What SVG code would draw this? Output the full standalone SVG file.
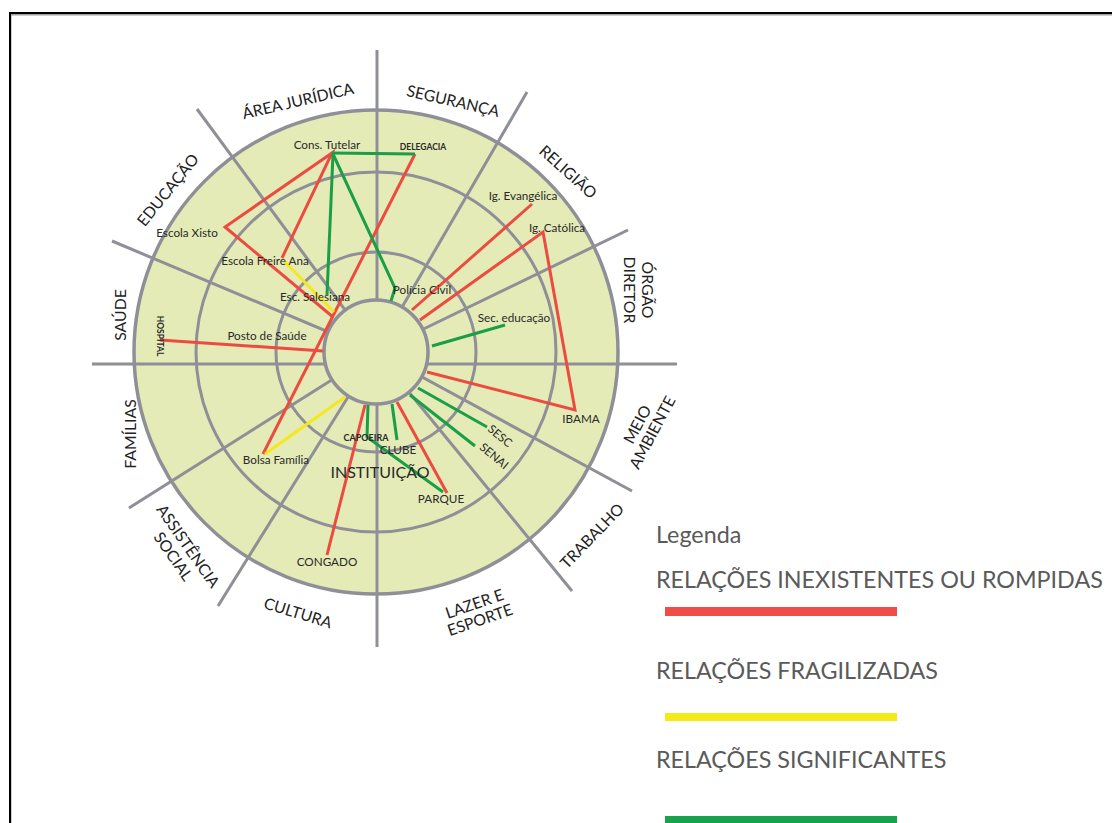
<svg xmlns="http://www.w3.org/2000/svg" width="1112" height="823" viewBox="0 0 1112 823">
<defs>
<style>
.ring{fill:none;stroke:#8f8f97;stroke-width:3}
.spoke{stroke:#8f8f97;stroke-width:3;fill:none}
.r{stroke:#ec4b41;stroke-width:3;fill:none;stroke-linejoin:miter}
.y{stroke:#f5e81c;stroke-width:3;fill:none}
.g{stroke:#1a9e48;stroke-width:3;fill:none}
.sec{font-family:Lato,'Liberation Sans',sans-serif;font-size:15.8px;fill:#222;text-anchor:middle}
.lab{font-family:Lato,'Liberation Sans',sans-serif;font-size:11.7px;fill:#2a2a2a;text-anchor:middle}
.leg{font-family:Lato,'Liberation Sans',sans-serif;font-size:23.3px;fill:#5a5a5a}
</style>
</defs>
<rect x="0" y="0" width="1112" height="823" fill="#ffffff"/>
<path d="M10.5,823 V14.5 H1112" fill="none" stroke="#a0a0a0" stroke-width="2"/>
<path d="M10,823 V13 H1112" fill="none" stroke="#000" stroke-width="2"/>

<g id="wheel">
<circle cx="376" cy="352" r="242" fill="#e4ebb6" stroke="#8f8f97" stroke-width="3.5"/>
<circle class="ring" cx="376" cy="352" r="180"/>
<circle class="ring" cx="376" cy="352" r="100"/>
<line class="spoke" x1="377" y1="50" x2="377" y2="647"/>
<line class="spoke" x1="92" y1="364" x2="677" y2="364"/>
<line class="spoke" x1="376" y1="352" x2="197" y2="109"/>
<line class="spoke" x1="376" y1="352" x2="112" y2="241"/>
<line class="spoke" x1="376" y1="352" x2="527" y2="92"/>
<line class="spoke" x1="376" y1="352" x2="628" y2="230"/>
<line class="spoke" x1="376" y1="352" x2="632" y2="491"/>
<line class="spoke" x1="376" y1="352" x2="572" y2="591"/>
<line class="spoke" x1="376" y1="352" x2="218" y2="606"/>
<line class="spoke" x1="376" y1="352" x2="129" y2="508"/>
<circle cx="376" cy="352" r="52" fill="#e4ebb6" stroke="#8f8f97" stroke-width="3.5"/>
</g>

<g id="connectors">
<polyline class="r" points="333,317 225,227 332,153 282,258"/>
<line class="r" x1="415" y1="154" x2="263" y2="454"/>
<line class="r" x1="532" y1="204" x2="412" y2="310"/>
<polyline class="r" points="420,320 543,232 575,410 427,372"/>
<line class="r" x1="397" y1="402" x2="447" y2="493"/>
<line class="r" x1="365" y1="405" x2="327" y2="555"/>
<line class="r" x1="160" y1="340" x2="323" y2="351"/>
<line class="y" x1="284" y1="261" x2="334" y2="312"/>
<line class="y" x1="265" y1="454" x2="345" y2="397"/>
<line class="g" x1="332" y1="153" x2="415" y2="154"/>
<line class="g" x1="333" y1="154" x2="327" y2="295"/>
<polyline class="g" points="333,154 395,288 391,301"/>
<line class="g" x1="505" y1="325" x2="432" y2="346"/>
<line class="g" x1="418" y1="388" x2="487" y2="427"/>
<line class="g" x1="410" y1="395" x2="475" y2="446"/>
<line class="g" x1="392" y1="404" x2="397" y2="440"/>
<polyline class="g" points="368,405 367,437 443,492"/>
</g>

<g id="sector-labels">
<text id="s-juridica" class="sec" transform="translate(298,101) rotate(-13)" y="5.5">ÁREA JURÍDICA</text>
<text id="s-seguranca" class="sec" transform="translate(453,101) rotate(13)" y="5.5">SEGURANÇA</text>
<text id="s-religiao" class="sec" transform="translate(568,172) rotate(42)" y="5.5">RELIGIÃO</text>
<text id="s-orgao" class="sec" transform="translate(639,290) rotate(90)"><tspan x="0" y="-3">ÓRGÃO</tspan><tspan x="0" y="15">DIRETOR</tspan></text>
<text id="s-meio" class="sec" transform="translate(644,428) rotate(-62)"><tspan x="0" y="-2">MEIO</tspan><tspan x="0" y="15">AMBIENTE</tspan></text>
<text id="s-trabalho" class="sec" transform="translate(592,536) rotate(-46)" y="5.5">TRABALHO</text>
<text id="s-lazer" class="sec" transform="translate(477,611) rotate(-19)"><tspan x="0" y="-2">LAZER E</tspan><tspan x="0" y="15">ESPORTE</tspan></text>
<text id="s-cultura" class="sec" transform="translate(298,613) rotate(17)" y="5.5">CULTURA</text>
<text id="s-assist" class="sec" transform="translate(181,551) rotate(55)"><tspan x="0" y="-3">ASSISTÊNCIA</tspan><tspan x="0" y="15">SOCIAL</tspan></text>
<text id="s-familias" class="sec" transform="translate(130,434) rotate(-90)" y="5.5">FAMÍLIAS</text>
<text id="s-saude" class="sec" transform="translate(120,315) rotate(-90)" y="5.5">SAÚDE</text>
<text id="s-educacao" class="sec" transform="translate(168,190) rotate(-51)" y="5.5">EDUCAÇÃO</text>
</g>

<g id="nodes">
<g id="n-cons"><text class="lab" x="327" y="149">Cons. Tutelar</text></g>
<g id="n-delegacia"><text class="lab" x="423" y="149.5" style="font-size:8.5px;font-weight:700">DELEGACIA</text></g>
<g id="n-xisto"><text class="lab" x="187" y="237">Escola Xisto</text></g>
<g id="n-freire"><text class="lab" x="265" y="265">Escola Freire Ana</text></g>
<g id="n-salesiana"><text class="lab" x="315" y="301">Esc. Salesiana</text></g>
<g id="n-evangelica"><text class="lab" x="523" y="200">Ig. Evangélica</text></g>
<g id="n-catolica"><text class="lab" x="557" y="232">Ig. Católica</text></g>
<g id="n-policia"><text class="lab" x="422" y="294">Polícia Civil</text></g>
<g id="n-sec"><text class="lab" x="514" y="322">Sec. educação</text></g>
<g id="n-posto"><text class="lab" x="267" y="340">Posto de Saúde</text></g>
<g id="n-hospital"><text class="lab" transform="translate(160,336) rotate(90)" y="3" style="font-size:8.5px;font-weight:700">HOSPITAL</text></g>
<g id="n-bolsa"><text class="lab" x="276" y="464">Bolsa Família</text></g>
<g id="n-congado"><text class="lab" x="327" y="566">CONGADO</text></g>
<g id="n-capoeira"><text class="lab" x="366" y="441" style="font-size:9px;font-weight:700">CAPOEIRA</text></g>
<g id="n-clube"><text class="lab" x="398" y="454">CLUBE</text></g>
<g id="n-instituicao"><text class="lab" x="380" y="478" style="font-size:16px">INSTITUIÇÃO</text></g>
<g id="n-parque"><text class="lab" x="441" y="503">PARQUE</text></g>
<g id="n-sesc"><text class="lab" transform="translate(500,436) rotate(40)" y="4">SESC</text></g>
<g id="n-senai"><text class="lab" transform="translate(494,456) rotate(40)" y="4">SENAI</text></g>
<g id="n-ibama"><text class="lab" x="581" y="423">IBAMA</text></g>
</g>

<g id="legend">
<text class="leg" x="656" y="543">Legenda</text>
<text class="leg" x="656" y="588">RELAÇÕES INEXISTENTES OU ROMPIDAS</text>
<rect x="665" y="607" width="232" height="9" fill="#ef4d47"/>
<text class="leg" x="656" y="679">RELAÇÕES FRAGILIZADAS</text>
<rect x="665" y="713" width="232" height="8" fill="#f5ea17"/>
<text class="leg" x="656" y="768">RELAÇÕES SIGNIFICANTES</text>
<rect x="665" y="816" width="232" height="9" fill="#17a34c"/>
</g>
</svg>
